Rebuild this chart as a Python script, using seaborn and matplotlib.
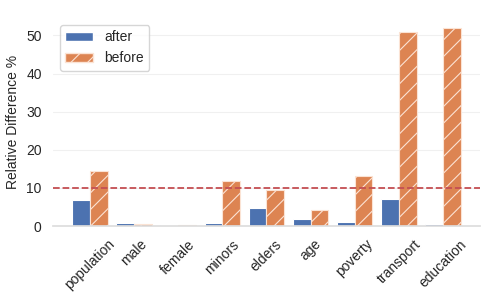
import matplotlib
matplotlib.use("Agg")
import matplotlib.pyplot as plt
import matplotlib.patches as mpatches
import seaborn as sns
import pandas as pd

categories = ["population", "male", "female", "minors", "elders", "age", "poverty", "transport", "education"]
after = [6.8, 0.8, 0.2, 0.8, 4.7, 1.8, 1.0, 7.0, 0.45]
before = [14.5, 0.5, 0.2, 11.8, 9.5, 4.1, 13.1, 51.0, 52.0]
threshold = 10

sns.set_theme(style="whitegrid")
plt.rcParams["font.family"] = ["Liberation Sans", "DejaVu Sans"]
plt.rcParams["hatch.linewidth"] = 0.8

df = pd.DataFrame({
    "category": categories * 2,
    "value": after + before,
    "period": ["after"] * len(categories) + ["before"] * len(categories),
})

fig, ax = plt.subplots(figsize=(4.98, 2.99), dpi=100)
fig.subplots_adjust(left=0.106, right=0.964, bottom=0.244, top=0.94)
pal = sns.color_palette("deep")
sns.barplot(data=df, x="category", y="value", hue="period", palette=[pal[0], pal[1]],
            saturation=1, ax=ax, edgecolor="white", linewidth=0.8, legend=False)
for p in ax.containers[1]:
    p.set_hatch("//")
    p.set_edgecolor("#fbe3d4")
ax.axhline(threshold, color=pal[3], linestyle="--", linewidth=1.3)
ax.set_xlim(-0.84, len(categories) - 1 + 0.84)
ax.set_ylim(0, 54.6)
ax.set_yticks([0, 10, 20, 30, 40, 50])
ax.grid(axis="x", visible=False)
ax.grid(axis="y", color="#f0f0f0", linewidth=0.8)
ax.set_xlabel("")
ax.set_ylabel("Relative Difference %", fontsize=10, color="#262626")
ax.tick_params(axis="both", labelsize=10, pad=2, labelcolor="#262626")
plt.setp(ax.get_xticklabels(), rotation=45, ha="center")
for s in ["left", "right", "top"]:
    ax.spines[s].set_visible(False)
ax.spines["bottom"].set_color("#dddddd")
handles = [
    mpatches.Patch(facecolor=pal[0], edgecolor="white", label="after"),
    mpatches.Patch(facecolor=pal[1], edgecolor="#fbe3d4", hatch="//", label="before"),
]
ax.legend(handles=handles, loc="upper left", fontsize=10, frameon=True)
fig.savefig("out.png", dpi=100)
